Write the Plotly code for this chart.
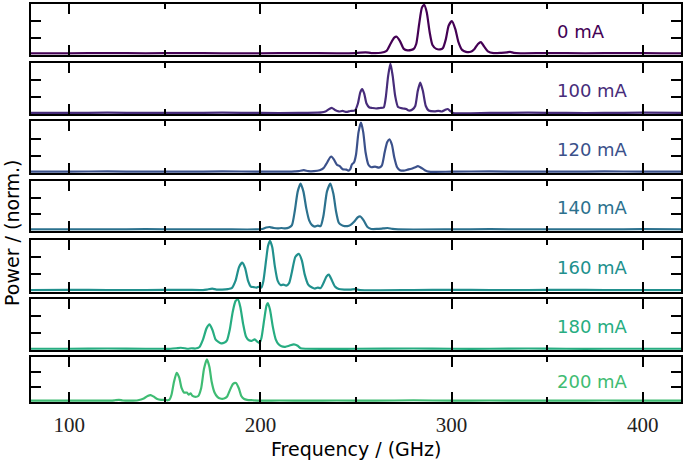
import plotly.graph_objects as go

# ---------------- data ----------------
labels = ["0 mA", "100 mA", "120 mA", "140 mA", "160 mA", "180 mA", "200 mA"]
colors = ["#440154", "#472c7a", "#3b518b", "#2c718e", "#21908d", "#27ad81", "#3fbc73"]

f_0mA = [80, 100, 120, 140, 160, 180, 200, 220, 240, 250, 255, 258, 263, 266, 268, 270, 271.3, 273, 275, 277,
         279, 280.2, 281.5, 283, 284.5, 285.7, 287, 288.5, 290, 292, 294, 295.5, 297, 298.5, 300.2, 302, 303.5,
         305.5, 307.5, 310, 312, 313.8, 315.3, 317, 319, 322, 326, 329, 330.6, 332.5, 336, 350, 370, 390, 410, 420]
p_0mA = [0.01, 0.01, 0.015, 0.01, 0.015, 0.01, 0.01, 0.015, 0.01, 0.015, 0.03, 0.015, 0.02, 0.06, 0.2, 0.33,
         0.35, 0.26, 0.1, 0.07, 0.08, 0.1, 0.2, 0.6, 0.95, 1.0, 0.85, 0.45, 0.18, 0.1, 0.09, 0.12, 0.3, 0.58, 0.67,
         0.5, 0.25, 0.08, 0.04, 0.04, 0.1, 0.2, 0.24, 0.15, 0.05, 0.015, 0.02, 0.03, 0.04, 0.02, 0.01, 0.015,
         0.01, 0.015, 0.01, 0.01]

f_100mA = [80, 100, 120, 140, 160, 180, 200, 220, 230, 232, 234, 236, 237.5, 239, 241, 243, 245, 247, 249.5,
           251, 252.2, 253.2, 254.3, 255.5, 257, 258.5, 260.5, 262.5, 264.5, 265.5, 266.8, 268, 269.2, 270.5,
           272, 274.5, 276.3, 277.5, 279.5, 281, 282.3, 283.6, 285, 286.5, 288, 291, 293, 295, 296.5, 298,
           299.5, 301, 320, 340, 360, 380, 400, 420]
p_100mA = [0.01, 0.01, 0.015, 0.01, 0.01, 0.015, 0.01, 0.01, 0.015, 0.02, 0.04, 0.09, 0.11, 0.07, 0.04, 0.05,
           0.03, 0.05, 0.06, 0.2, 0.42, 0.49, 0.4, 0.2, 0.12, 0.11, 0.1, 0.11, 0.12, 0.3, 0.75, 1.0, 0.75, 0.35,
           0.13, 0.1, 0.09, 0.06, 0.08, 0.15, 0.45, 0.62, 0.45, 0.15, 0.06, 0.04, 0.05, 0.04, 0.07, 0.09, 0.04,
           0.01, 0.01, 0.015, 0.01, 0.01, 0.015, 0.01]

f_120mA = [80, 100, 120, 140, 160, 180, 200, 215, 218, 220, 222.7, 225, 228, 231, 233, 235, 236.5, 237.3,
           238.5, 240, 241.5, 243, 245, 246, 247, 247.8, 249, 250, 251.3, 252.6, 253.8, 255, 256.5, 258, 260,
           262, 263.5, 265, 266.3, 267.5, 268.8, 270, 271.5, 273, 275, 277, 279, 281, 282.4, 284, 286, 288,
           300, 320, 340, 360, 380, 400, 420]
p_120mA = [0.01, 0.01, 0.015, 0.01, 0.01, 0.015, 0.01, 0.01, 0.015, 0.02, 0.04, 0.02, 0.02, 0.04, 0.08, 0.2,
           0.3, 0.31, 0.25, 0.15, 0.12, 0.06, 0.05, 0.03, 0.06, 0.15, 0.2, 0.35, 0.8, 1.0, 0.8, 0.4, 0.15, 0.1,
           0.11, 0.09, 0.13, 0.4, 0.6, 0.66, 0.55, 0.3, 0.1, 0.04, 0.03, 0.05, 0.07, 0.1, 0.12, 0.09, 0.04,
           0.01, 0.01, 0.015, 0.01, 0.01, 0.015, 0.01, 0.01]

f_140mA = [80, 100, 120, 140, 160, 180, 198, 201, 203, 205, 207, 209, 211, 213, 215, 216.5, 218, 219.5, 221,
           222.5, 224, 225.5, 227, 228.5, 230, 231.5, 233, 234.8, 236.6, 238.2, 239.5, 241, 242.5, 244, 245.5,
           247, 249, 250.8, 252.3, 254, 256, 258, 261, 264, 266.6, 269, 272, 300, 320, 340, 360, 380, 400, 420]
p_140mA = [0.01, 0.01, 0.01, 0.015, 0.01, 0.01, 0.01, 0.02, 0.05, 0.06, 0.04, 0.03, 0.04, 0.03, 0.05, 0.1,
           0.4, 0.8, 0.97, 0.8, 0.45, 0.2, 0.1, 0.07, 0.09, 0.08, 0.3, 0.8, 0.97, 0.75, 0.4, 0.15, 0.1, 0.08,
           0.08, 0.1, 0.17, 0.26, 0.28, 0.2, 0.06, 0.02, 0.02, 0.03, 0.04, 0.02, 0.01, 0.01, 0.015, 0.01, 0.01,
           0.01, 0.015, 0.01]

f_160mA = [80, 100, 120, 140, 160, 170, 172, 174.8, 177, 180, 183, 185, 187, 188.8, 190.5, 192, 193.5, 195,
           196.5, 198, 199.5, 200.5, 201.5, 203, 204, 205, 206.2, 207.5, 209, 210.5, 212, 213.5, 215, 216.5,
           218.3, 220.1, 221.7, 223.2, 225, 227, 228.5, 230, 231.5, 233, 234.5, 235.8, 237.2, 239, 241, 244,
           247, 249.7, 252, 280, 300, 320, 340, 360, 380, 400, 420]
p_160mA = [0.01, 0.015, 0.01, 0.01, 0.015, 0.01, 0.02, 0.04, 0.02, 0.02, 0.03, 0.05, 0.2, 0.47, 0.56, 0.45,
           0.2, 0.08, 0.07, 0.06, 0.08, 0.06, 0.18, 0.62, 0.9, 1.0, 0.87, 0.5, 0.2, 0.11, 0.12, 0.1, 0.15,
           0.38, 0.68, 0.74, 0.6, 0.32, 0.12, 0.06, 0.04, 0.06, 0.05, 0.15, 0.28, 0.32, 0.22, 0.08, 0.03, 0.02,
           0.02, 0.03, 0.01, 0.01, 0.015, 0.01, 0.01, 0.015, 0.01, 0.01, 0.01]

f_180mA = [80, 100, 120, 140, 150, 153, 156, 158.3, 160.5, 162, 164, 166, 168, 170, 171.8, 173.4, 175, 176.5,
           178, 179.5, 181, 182.5, 184, 185.5, 187, 188.3, 189.5, 191, 192.5, 194, 195.5, 197, 198.5, 199.5,
           200.5, 202, 203.2, 203.9, 205, 206.5, 208, 209.5, 211, 213, 215, 217.5, 219.5, 221, 224, 250, 280,
           300, 320, 340, 360, 380, 400, 420]
p_180mA = [0.01, 0.01, 0.015, 0.01, 0.01, 0.01, 0.02, 0.03, 0.02, 0.01, 0.02, 0.015, 0.04, 0.2, 0.42, 0.5,
           0.38, 0.2, 0.15, 0.12, 0.13, 0.18, 0.4, 0.75, 0.97, 1.0, 0.85, 0.5, 0.25, 0.18, 0.17, 0.2, 0.15, 0.13,
           0.22, 0.6, 0.88, 0.93, 0.8, 0.45, 0.2, 0.1, 0.06, 0.05, 0.07, 0.1, 0.07, 0.02, 0.01, 0.01, 0.015,
           0.01, 0.01, 0.015, 0.01, 0.01, 0.01, 0.01]

f_200mA = [80, 100, 120, 122, 124, 126, 128, 132, 136, 139, 141, 142.6, 144, 146, 148, 150, 151.5, 152.5,
           153.5, 154.8, 156.2, 157.5, 158.8, 160, 161.5, 162.5, 163.5, 164.5, 166, 167.5, 169, 170.5, 172,
           173.3, 174.5, 176, 177.5, 179, 181, 182.5, 184, 185.7, 187.2, 188.7, 190, 191.5, 193, 196, 200, 210,
           225, 240, 260, 280, 300, 320, 340, 360, 380, 400, 420]
p_200mA = [0.01, 0.01, 0.01, 0.01, 0.02, 0.03, 0.015, 0.01, 0.02, 0.06, 0.12, 0.14, 0.11, 0.05, 0.03, 0.03,
           0.02, 0.04, 0.15, 0.45, 0.66, 0.55, 0.3, 0.2, 0.2, 0.15, 0.18, 0.12, 0.1, 0.12, 0.3, 0.75, 0.97, 0.8,
           0.45, 0.2, 0.1, 0.06, 0.06, 0.1, 0.25, 0.4, 0.42, 0.3, 0.12, 0.05, 0.03, 0.02, 0.01, 0.015, 0.01,
           0.015, 0.01, 0.02, 0.01, 0.015, 0.01, 0.01, 0.015, 0.01, 0.01]

freqs = [f_0mA, f_100mA, f_120mA, f_140mA, f_160mA, f_180mA, f_200mA]
powers = [p_0mA, p_100mA, p_120mA, p_140mA, p_160mA, p_180mA, p_200mA]

x_ticks = [100, 200, 300, 400]
x_minor_ticks = [150, 250, 350]
x_tick_text = ["100", "200", "300", "400"]

# ---------------- layout geometry ----------------
W, H = 685, 464
ml, mr, mt, mb = 31, 2, 2, 62
plot_h = H - mt - mb  # 400
# panel (top, bottom) in pixels
panels_px = [(2, 53), (61, 113), (120, 172), (180, 230), (239, 291), (298, 350), (357, 402)]


def to_paper(py):
    return (402 - py) / plot_h


fig = go.Figure()
layout = dict(
    width=W, height=H, autosize=False,
    margin=dict(l=ml, r=mr, t=mt, b=mb, pad=0),
    plot_bgcolor="white", paper_bgcolor="white",
    showlegend=False,
    font=dict(family="DejaVu Sans", color="black"),
)

annotations = []
n = len(labels)
for i in range(n):
    k = i + 1
    xa = "x" if k == 1 else f"x{k}"
    ya = "y" if k == 1 else f"y{k}"
    fig.add_trace(go.Scatter(
        x=freqs[i], y=powers[i], mode="lines",
        line=dict(color=colors[i], width=2.2, shape="spline", smoothing=0.6),
        xaxis=xa, yaxis=ya, hoverinfo="skip",
    ))
    top, bot = panels_px[i]
    last = (i == n - 1)
    layout[f"xaxis{'' if k == 1 else k}"] = dict(
        domain=[0, 1], range=[80, 420], anchor=ya,
        showline=True, linecolor="black", linewidth=2, mirror="ticks",
        ticks="inside", ticklen=10, tickwidth=2, tickcolor="black",
        tickvals=x_ticks, ticktext=x_tick_text,
        minor=dict(tickvals=x_minor_ticks, ticks="inside", ticklen=5, tickwidth=2, tickcolor="black"),
        showgrid=False, zeroline=False,
        showticklabels=last,
        tickfont=dict(family="Liberation Serif", size=21, color="#222222"),
        ticklabelstandoff=3,
        fixedrange=True,
    )
    layout[f"yaxis{'' if k == 1 else k}"] = dict(
        domain=[to_paper(bot), to_paper(top)], range=[-0.02, 1.02], anchor=xa,
        showline=True, linecolor="black", linewidth=2, mirror="ticks",
        ticks="inside", ticklen=10, tickwidth=2, tickcolor="black",
        tickvals=[1 / 3, 2 / 3], showticklabels=False,
        showgrid=False, zeroline=False, fixedrange=True,
    )
    annotations.append(dict(
        x=354, y=0.46, xref=xa, yref=ya, text=labels[i], showarrow=False,
        xanchor="left", yanchor="middle",
        font=dict(family="DejaVu Sans", size=18, color=colors[i]),
    ))

annotations.append(dict(
    x=0.5, y=to_paper(449), xref="paper", yref="paper", text="Frequency / (GHz)",
    showarrow=False, xanchor="center", yanchor="middle",
    font=dict(family="DejaVu Sans", size=19, color="black"),
))
annotations.append(dict(
    x=(12 - ml) / (W - ml - mr), y=to_paper(232), xref="paper", yref="paper", text="Power / (norm.)",
    showarrow=False, xanchor="center", yanchor="middle", textangle=-90,
    font=dict(family="DejaVu Sans", size=19, color="black"),
))
layout["annotations"] = annotations
fig.update_layout(**layout)

fig.write_html(
    "out.html",
    config={"displayModeBar": False},
    post_script="document.body.style.margin='0';document.body.style.padding='0';",
)
